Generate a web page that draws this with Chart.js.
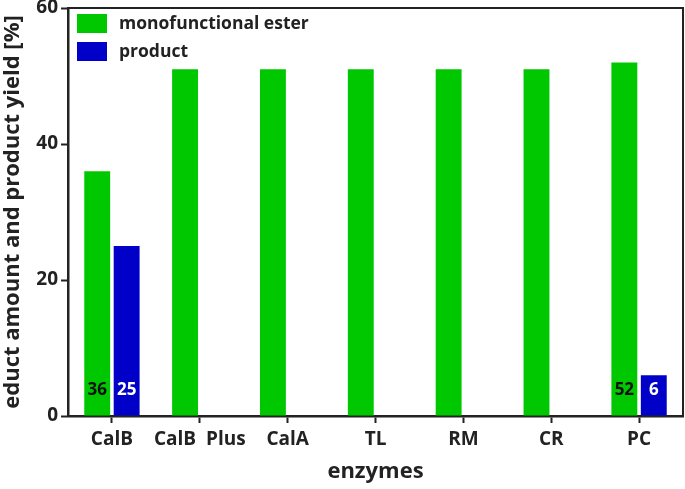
<!DOCTYPE html>
<html><head><meta charset="utf-8">
<style>html,body{margin:0;padding:0;background:#fff;}#wrap{width:685px;height:489px;}</style>
<script src="https://cdn.jsdelivr.net/npm/chart.js@4/dist/chart.umd.min.js"></script>
</head><body><div id="wrap"><canvas id="c" width="685" height="489"></canvas></div>
<script>
const categories = ["CalB", "CalB  Plus", "CalA", "TL", "RM", "CR", "PC"];
const esterValues = [36, 51, 51, 51, 51, 51, 52];
const productValues = [25, null, null, null, null, null, 6];
const valueLabels = [["36", null, null, null, null, null, "52"], ["25", null, null, null, null, null, "6"]];
const yTicks = [0, 20, 40, 60];
const seriesNames = ["monofunctional ester", "product"];

const FONT = "'Open Sans', sans-serif";
const GREEN = "#00c800", BLUE = "#0000c8";

const framePlugin = {
  id: 'frame',
  afterDraw(chart) {
    const {ctx, chartArea: a} = chart;
    ctx.save();
    ctx.strokeStyle = '#222'; ctx.lineWidth = 2;
    ctx.beginPath();
    ctx.moveTo(a.left, a.top); ctx.lineTo(a.right, a.top); ctx.lineTo(a.right, a.bottom);
    ctx.stroke();
    // value labels
    ctx.font = "bold 17px " + FONT;
    ctx.textAlign = 'center'; ctx.textBaseline = 'middle';
    const y0 = chart.scales.y.getPixelForValue(0);
    chart.data.datasets.forEach((ds, di) => {
      const meta = chart.getDatasetMeta(di);
      meta.data.forEach((bar, i) => {
        const t = valueLabels[di][i];
        if (t == null) return;
        ctx.fillStyle = di === 0 ? '#111' : '#fff';
        ctx.fillText(t, bar.x, y0 - 26);
      });
    });
    // legend
    const lx = a.left + 9, ly = a.top + 6;
    chart.data.datasets.forEach((ds, di) => {
      const y = ly + di * 28;
      ctx.fillStyle = ds.backgroundColor;
      ctx.fillRect(lx, y, 30, 19);
      ctx.fillStyle = '#222';
      ctx.textAlign = 'left';
      ctx.font = "bold 17.5px " + FONT;
      ctx.fillText(ds.label, lx + 42, y + 10);
    });
    ctx.restore();
  }
};

new Chart(document.getElementById('c'), {
  type: 'bar',
  data: {
    labels: categories,
    datasets: [
      {label: seriesNames[0], data: esterValues, backgroundColor: GREEN, categoryPercentage: 0.67, barPercentage: 0.88},
      {label: seriesNames[1], data: productValues, backgroundColor: BLUE, categoryPercentage: 0.67, barPercentage: 0.88}
    ]
  },
  plugins: [framePlugin],
  options: {
    responsive: false, animation: false,
    layout: {padding: {top: 8, right: 2, left: 0, bottom: 0}},
    plugins: {legend: {display: false}, tooltip: {enabled: false}},
    scales: {
      x: {
        grid: {display: true, offset: false, drawOnChartArea: false, drawTicks: true, tickLength: 7, tickWidth: 2, tickColor: '#222', color: '#222'},
        border: {color: '#222', width: 2.5},
        ticks: {color: '#222', font: {family: FONT, size: 19, weight: 'bold'}, padding: 5, maxRotation: 0, autoSkip: false},
        title: {display: true, text: 'enzymes', color: '#222', font: {family: FONT, size: 22, weight: 'bold'}, padding: {top: 2}},
        afterFit(s) { s.height = 73; s.paddingLeft = 0; s.paddingRight = 0; }
      },
      y: {
        min: 0, max: 60,
        afterBuildTicks(s) { s.ticks = yTicks.map(v => ({value: v})); },
        grid: {display: true, drawOnChartArea: false, drawTicks: true, tickLength: 7, tickWidth: 2, tickColor: '#222', color: '#222'},
        border: {color: '#222', width: 2.5},
        ticks: {color: '#222', font: {family: FONT, size: 19, weight: 'bold'}, padding: 3},
        title: {display: true, text: 'educt amount and product yield [%]', color: '#222', font: {family: FONT, size: 22, weight: 'bold'}, padding: {top: 0, bottom: 0}},
        afterFit(s) { s.width = 68; s.paddingTop = 0; s.paddingBottom = 0; }
      }
    }
  }
});
</script></body></html>
